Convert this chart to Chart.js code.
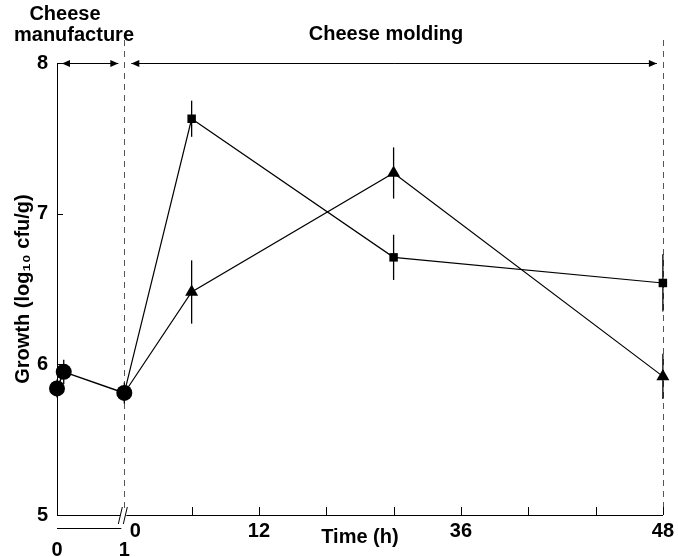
<!DOCTYPE html>
<html>
<head>
<meta charset="utf-8">
<script src="https://cdn.jsdelivr.net/npm/chart.js@4/dist/chart.umd.min.js"></script>
<style>
html, body { margin: 0; padding: 0; background: #fff; }
</style>
</head>
<body>
<canvas id="grafica" width="678" height="557"></canvas>
<script>
// la fabricacion (0..1) se dibuja en el tramo -6..0 h del eje
var horasFabricacion = [-6, -5.4, 0];
var valoresCirculo = [5.84, 5.95, 5.81];
var errorCirculo = [0.06, 0.08, 0.07];

var horasMolde = [0, 6, 24, 48];
var valoresCuadrado = [5.81, 7.63, 6.71, 6.54];
var errorCuadrado = [0, 0.12, 0.15, 0.19];
var valoresTriangulo = [5.81, 6.48, 7.27, 5.92];
var errorTriangulo = [0, 0.21, 0.17, 0.15];

var ticksX = [0, 12, 30, 48];
var etiquetasX = ["    0", "12", "36", "48"];
var marcasX = [6, 12, 18, 24, 30, 36, 42, 48];
var ticksFabricacion = [-6, 0];
var etiquetasFabricacion = ["0", "1"];
var ticksY = [5, 6, 7, 8];

var fuente = "'Liberation Sans', Arial, sans-serif";

function puntos(xs, ys) {
    var res = [];
    for (var i = 0; i < xs.length; i++) {
        res.push({ x: xs[i], y: ys[i] });
    }
    return res;
}

var errores = [errorCuadrado, errorTriangulo, errorCirculo];

var dibujoExtra = {
    id: "dibujoExtra",
    beforeDatasetsDraw: function (chart) {
        var ctx = chart.ctx;
        var sx = chart.scales.x;
        var sy = chart.scales.y;
        var abajo = chart.chartArea.bottom;
        ctx.save();
        // lineas discontinuas
        ctx.strokeStyle = "#555";
        ctx.lineWidth = 1;
        ctx.setLineDash([6, 5]);
        [0, 48].forEach(function (h) {
            var px = Math.round(sx.getPixelForValue(h)) + 0.5;
            ctx.beginPath();
            ctx.moveTo(px, 40);
            ctx.lineTo(px, abajo);
            ctx.stroke();
        });
        ctx.setLineDash([]);
        // barras de error
        ctx.strokeStyle = "#000";
        ctx.lineWidth = 1.3;
        chart.data.datasets.forEach(function (ds, d) {
            var err = errores[d];
            ds.data.forEach(function (p, i) {
                if (!err[i]) return;
                var px = sx.getPixelForValue(p.x);
                ctx.beginPath();
                ctx.moveTo(px, sy.getPixelForValue(p.y + err[i]));
                ctx.lineTo(px, sy.getPixelForValue(p.y - err[i]));
                ctx.stroke();
            });
        });
        ctx.restore();
    },
    afterDraw: function (chart) {
        var ctx = chart.ctx;
        var sx = chart.scales.x;
        var sy = chart.scales.y;
        var izq = chart.chartArea.left;
        var abajo = chart.chartArea.bottom;
        ctx.save();
        ctx.strokeStyle = "#000";
        ctx.fillStyle = "#000";
        ctx.lineWidth = 1;

        // marcas hacia dentro
        marcasX.forEach(function (h) {
            var px = Math.round(sx.getPixelForValue(h)) + 0.5;
            ctx.beginPath();
            ctx.moveTo(px, abajo);
            ctx.lineTo(px, abajo - 8);
            ctx.stroke();
        });
        ticksY.forEach(function (v) {
            var py = Math.round(sy.getPixelForValue(v)) + 0.5;
            ctx.beginPath();
            ctx.moveTo(izq, py);
            ctx.lineTo(izq + 6, py);
            ctx.stroke();
        });

        // corte del eje
        var xc = sx.getPixelForValue(0);
        ctx.fillStyle = "#fff";
        ctx.fillRect(xc - 4, abajo - 2, 6, 4);
        ctx.fillStyle = "#000";
        ctx.beginPath();
        ctx.moveTo(xc - 6, abajo + 9);
        ctx.lineTo(xc - 2, abajo - 8);
        ctx.moveTo(xc - 1, abajo + 9);
        ctx.lineTo(xc + 3, abajo - 8);
        ctx.stroke();

        // eje de fabricacion
        var yf = abajo + 13.5;
        ctx.beginPath();
        ctx.moveTo(sx.getPixelForValue(ticksFabricacion[0]), yf);
        ctx.lineTo(sx.getPixelForValue(ticksFabricacion[1]) - 3, yf);
        ctx.stroke();
        ctx.font = "bold 20px " + fuente;
        ctx.textAlign = "center";
        ctx.textBaseline = "middle";
        ticksFabricacion.forEach(function (h, i) {
            ctx.fillText(etiquetasFabricacion[i], sx.getPixelForValue(h), abajo + 35);
        });

        // flechas
        var ya = Math.round(sy.getPixelForValue(8)) + 0.5;
        function flecha(x1, x2) {
            ctx.beginPath();
            ctx.moveTo(x1, ya);
            ctx.lineTo(x2, ya);
            ctx.stroke();
            ctx.beginPath();
            ctx.moveTo(x1, ya);
            ctx.lineTo(x1 + 8, ya - 3.5);
            ctx.lineTo(x1 + 8, ya + 3.5);
            ctx.closePath();
            ctx.fill();
            ctx.beginPath();
            ctx.moveTo(x2, ya);
            ctx.lineTo(x2 - 8, ya - 3.5);
            ctx.lineTo(x2 - 8, ya + 3.5);
            ctx.closePath();
            ctx.fill();
        }
        flecha(sx.getPixelForValue(-6) + 5, sx.getPixelForValue(0) - 6);
        flecha(sx.getPixelForValue(0) + 7, sx.getPixelForValue(48) - 6);

        // titulos de etapas
        ctx.font = "bold 20px " + fuente;
        ctx.fillText("Cheese", 65, 14);
        ctx.fillText("manufacture", 74, 35);
        ctx.fillText("Cheese molding", 386, 34);
        ctx.restore();
    }
};

function serie(xs, ys, estilo, radio, grosor) {
    return {
        data: puntos(xs, ys),
        pointStyle: estilo,
        pointRadius: radio,
        borderColor: "#000",
        backgroundColor: "#000",
        pointBackgroundColor: "#000",
        pointBorderColor: "#000",
        pointBorderWidth: 0,
        borderWidth: grosor,
        tension: 0,
        clip: false
    };
}

var datos = {
    type: "line",
    data: {
        datasets: [
            serie(horasMolde, valoresCuadrado, "rect", [0, 6, 6, 6], 1.2),
            serie(horasMolde, valoresTriangulo, "triangle", [0, 7.5, 7.5, 7.5], 1.2),
            serie(horasFabricacion, valoresCirculo, "circle", 8, 1.5)
        ]
    },
    options: {
        responsive: false,
        animation: false,
        devicePixelRatio: 1,
        layout: { padding: { top: 63, right: 11, left: 0, bottom: 0 } },
        plugins: {
            legend: { display: false },
            tooltip: { enabled: false },
            colors: { enabled: false }
        },
        scales: {
            x: {
                type: "linear",
                min: -6,
                max: 48,
                grid: { display: false, drawTicks: false },
                border: { display: true, color: "#000", width: 1 },
                afterBuildTicks: function (scale) {
                    scale.ticks = ticksX.map(function (v) { return { value: v }; });
                },
                afterFit: function (scale) { scale.height = 42; },
                ticks: {
                    maxRotation: 0,
                    autoSkip: false,
                    padding: 4,
                    color: "#000",
                    font: { family: fuente, size: 20, weight: "bold" },
                    callback: function (value, index) { return etiquetasX[index]; }
                },
                title: {
                    display: true,
                    text: "Time (h)",
                    color: "#000",
                    font: { family: fuente, size: 20, weight: "bold" },
                    padding: { top: 0, bottom: 8 }
                }
            },
            y: {
                min: 5,
                max: 8,
                grid: { display: false, drawTicks: false },
                border: { display: true, color: "#000", width: 1 },
                afterBuildTicks: function (scale) {
                    scale.ticks = ticksY.map(function (v) { return { value: v }; });
                },
                afterFit: function (scale) { scale.width = 57; },
                ticks: {
                    padding: 9,
                    color: "#000",
                    font: { family: fuente, size: 20, weight: "bold" }
                },
                title: {
                    display: true,
                    text: "Growth (log\u2081\u2080 cfu/g)",
                    color: "#000",
                    font: { family: fuente, size: 20, weight: "bold" },
                    padding: { top: 11, bottom: 0 }
                }
            }
        }
    },
    plugins: [dibujoExtra]
};

var grafica = new Chart(document.getElementById("grafica"), datos);
</script>
</body>
</html>
